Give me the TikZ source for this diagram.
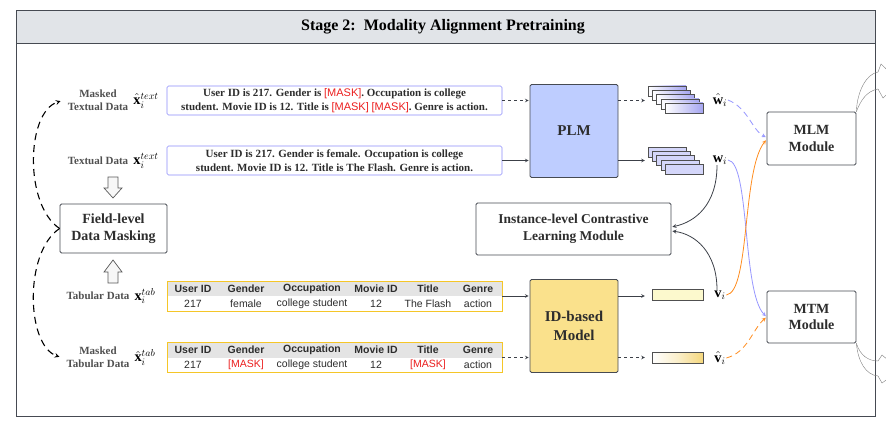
\documentclass[tikz,border=0pt]{standalone}
\usepackage{fontspec}
\setmainfont{Liberation Serif}
\setsansfont{Liberation Sans}
\usepackage{amsmath}
\usetikzlibrary{arrows, positioning}

\definecolor{framegray}{RGB}{70,74,82}
\definecolor{headfill}{RGB}{225,228,232}
\definecolor{textgray}{RGB}{45,45,45}
\definecolor{labelgray}{RGB}{80,80,80}
\definecolor{arrowgray}{RGB}{60,64,72}
\definecolor{plmblue}{RGB}{140,140,250}
\definecolor{plmfill}{RGB}{190,205,255}
\definecolor{stackfill}{RGB}{212,214,250}
\definecolor{stackmask}{RGB}{165,165,240}
\definecolor{idfill}{RGB}{250,225,140}
\definecolor{tabgold}{RGB}{245,198,40}
\definecolor{tabhead}{RGB}{228,228,228}
\definecolor{vfill}{RGB}{252,249,205}
\definecolor{vmask}{RGB}{245,215,125}
\definecolor{maskred}{RGB}{235,30,30}
\definecolor{lineblue}{RGB}{150,150,255}
\definecolor{lineorange}{RGB}{255,140,30}

\newcommand{\maskt}{\textcolor{maskred}{\sffamily\mdseries [MASK]}}

\begin{document}
\begin{tikzpicture}[
            x = 1pt, y = -1pt, % pixel grid, y going down
            > = stealth, % arrow head style
            shorten > = 1pt, % don't touch arrow head to node
            semithick % line style
        ]

        \tikzstyle{module}=[
            draw = framegray,
            thick,
            fill = white,
            rounded corners = 1.5pt,
            align = center,
            text = textgray,
            font = \fontsize{14}{17}\selectfont\bfseries
        ]
        \tikzstyle{model}=[module, minimum width = 88pt, minimum height = 93pt, font = \fontsize{15}{19}\selectfont\bfseries]
        \tikzstyle{textbox}=[
            draw = plmblue,
            rounded corners = 1.5pt,
            minimum width = 335pt,
            minimum height = 29pt,
            inner sep = 0pt,
            align = center,
            text = textgray,
            font = \fontsize{11}{13.5}\selectfont\bfseries
        ]
        \tikzstyle{tabbox}=[
            draw = tabgold,
            thick,
            fill = white,
            minimum width = 335pt,
            minimum height = 30pt,
            path picture = {\fill[tabhead] (path picture bounding box.north west) rectangle (path picture bounding box.east);}
        ]
        \tikzstyle{headcell}=[inner sep = 0pt, text = textgray, font = \fontsize{10.5}{11}\selectfont\sffamily\bfseries]
        \tikzstyle{cell}=[inner sep = 0pt, text = textgray, font = \fontsize{10.5}{11}\selectfont\sffamily]
        \tikzstyle{datalabel}=[align = center, inner sep = 1pt, text = labelgray, font = \fontsize{11}{13}\selectfont\bfseries]
        \tikzstyle{mathlabel}=[inner sep = 0.5pt, text = black, font = \fontsize{14.4}{16}\selectfont]
        \tikzstyle{stackcell}=[draw = labelgray, thin, minimum width = 38pt, minimum height = 10pt, inner sep = 0pt]
        \tikzstyle{bar}=[draw = labelgray, thin, minimum width = 51pt, minimum height = 11pt, inner sep = 0pt]
        \tikzstyle{flow}=[->, draw = arrowgray]
        \tikzstyle{maskflow}=[flow, dashed]
        \tikzstyle{dashcurve}=[->, black, line width = 1.1pt, dash pattern = on 7pt off 5pt, shorten > = 2pt]
        \tikzstyle{blockarrow}=[draw = black!65, fill = black!3, line width = 0.7pt]
        \tikzstyle{outarrow}=[draw = gray, thin]

        \useasboundingbox (0,0) rectangle (886,425);

        % frame and title
        \draw[framegray, thick] (16,10) rectangle (875,416);
        \filldraw[fill = headfill, draw = framegray, thick] (16,10) rectangle (875,43);
        \node[text = black, font = \fontsize{16}{18}\selectfont\bfseries] (title) at (443,26.5) {Stage 2:\ \ Modality Alignment Pretraining};

        % inputs
        \node[textbox] (mtext) at (334.5,100.5) {User ID is 217. Gender is \maskt. Occupation is college\\student. Movie ID is 12. Title is \maskt\ \maskt. Genre is action.};
        \node[textbox] (text) at (334.5,160.5) {User ID is 217. Gender is female. Occupation is college\\student. Movie ID is 12. Title is The Flash. Genre is action.};
        \node[tabbox] (tab) at (334.5,296) {};
        \node[tabbox] (mtab) at (334.5,357.5) {};
        \foreach \cx/\hd/\val/\mval [count=\c] in {193/User ID/217/217, 246/Gender/female/\textcolor{maskred}{[MASK]}, 312/Occupation/college student/college student, 376/Movie ID/12/12, 428/Title/The Flash/\textcolor{maskred}{[MASK]}, 478/Genre/action/action} {
            \node[headcell] (tabh\c) at (\cx,288.5) {\hd};
            \node[cell] (tabv\c) at (\cx,303.5) {\val};
            \node[headcell] (mtabh\c) at (\cx,350) {\hd};
            \node[cell] (mtabv\c) at (\cx,365) {\mval};
        }

        % left labels
        \node[datalabel] (mtlbl) at (98,100.5) {Masked\\Textual Data};
        \node[datalabel] (tlbl) at (98,160.5) {Textual Data};
        \node[datalabel] (tblbl) at (98,296) {Tabular Data};
        \node[datalabel] (mtblbl) at (98,357.5) {Masked\\Tabular Data};
        \node[mathlabel, right = 3pt of mtlbl] (mxt) {$\hat{\mathbf{x}}_i^{text}$};
        \node[mathlabel, right = 3pt of tlbl] (xt) {$\mathbf{x}_i^{text}$};
        \node[mathlabel, right = 3pt of tblbl] (xb) {$\mathbf{x}_i^{tab}$};
        \node[mathlabel, right = 3pt of mtblbl] (mxb) {$\hat{\mathbf{x}}_i^{tab}$};

        \node[module, minimum width = 107pt, minimum height = 49pt] (masking) at (113.5,228.5) {Field-level\\Data Masking};
        \draw[blockarrow] (108,177) -- (118,177) -- (118,188) -- (122,188) -- (113,198) -- (104,188) -- (108,188) -- cycle;
        \draw[blockarrow] (108,283) -- (118,283) -- (118,272) -- (122,272) -- (113,260) -- (104,272) -- (108,272) -- cycle;
        \draw[dashcurve] (masking.west) .. controls (24,205) and (26,112) .. ([xshift = -4pt]mtlbl.west);
        \draw[dashcurve] (masking.west) .. controls (24,252) and (26,345) .. ([xshift = -4pt]mtblbl.west);

        % encoders
        \node[model, fill = plmfill] (plm) at (574,131) {PLM};
        \node[model, fill = idfill] (idm) at (574,326) {ID-based\\Model};
        \draw[maskflow] (mtext.east) -- (plm.west |- mtext.east);
        \draw[flow] (text.east) -- (plm.west |- text.east);
        \draw[flow] (tab.east) -- (idm.west |- tab.east);
        \draw[maskflow] (mtab.east) -- (idm.west |- mtab.east);

        % embeddings
        \foreach \k in {0,...,4} {
            \node[stackcell, left color = white, right color = stackmask] (wms\k) at (667+4.25*\k, 91+4.25*\k) {};
            \node[stackcell, fill = stackfill] (ws\k) at (667+4.25*\k, 152+4.25*\k) {};
        }
        \node[bar, fill = vfill] (vbar) at (677.5,294.5) {};
        \node[bar, left color = white, right color = vmask, middle color = white!60!vmask] (vmbar) at (677.5,357.5) {};
        \draw[maskflow] (plm.east |- mtext.east) -- ([xshift = -2pt]wms0.west |- mtext.east);
        \draw[flow] (plm.east |- text.east) -- ([xshift = -2pt]ws0.west |- text.east);
        \draw[flow] (idm.east |- tab.east) -- ([xshift = -6pt]vbar.west |- tab.east);
        \draw[maskflow] (idm.east |- mtab.east) -- ([xshift = -6pt]vmbar.west |- mtab.east);

        \node[mathlabel] (wm) at (720,100) {$\hat{\mathbf{w}}_i$};
        \node[mathlabel] (w) at (720,160) {$\mathbf{w}_i$};
        \node[mathlabel] (v) at (720,295) {$\mathbf{v}_i$};
        \node[mathlabel] (vm) at (720,358) {$\hat{\mathbf{v}}_i$};

        % objectives
        \node[module, minimum width = 195pt, minimum height = 52pt, font = \fontsize{13.5}{17}\selectfont\bfseries] (icl) at (573.5,229) {Instance-level Contrastive\\Learning Module};
        \node[module, minimum width = 89pt, minimum height = 53pt] (mlm) at (811.5,138.5) {MLM\\Module};
        \node[module, minimum width = 89pt, minimum height = 52pt] (mtm) at (811.5,317) {MTM\\Module};

        \draw[->, arrowgray, thick] ([xshift = -3pt]w.south) .. controls (717,205) and (695,222) .. ([yshift = 2pt]icl.east);
        \draw[->, arrowgray, thick] ([xshift = -3pt]v.north) .. controls (717,252) and (695,234) .. ([yshift = -2pt]icl.east);
        \draw[->, lineblue, thick, dash pattern = on 6pt off 4pt] (wm.east) .. controls (748,108) and (752,130) .. ([yshift = 1pt]mlm.west);
        \draw[->, lineblue, thick] (w.east) .. controls (750,162) and (742,292) .. (mtm.west);
        \draw[->, lineorange, thick] (v.east) .. controls (750,292) and (742,170) .. ([yshift = -1pt]mlm.west);
        \draw[->, lineorange, thick, dash pattern = on 6pt off 4pt] (vm.east) .. controls (748,352) and (752,330) .. (mtm.west);

        % outputs leaving the stage
        \draw[outarrow] (mlm.north east) .. controls (857,92) and (866,74) .. (878,72) -- (881,64) -- (900,82);
        \draw[outarrow] (mlm.north east) .. controls (860,102) and (866,91) .. (878,89) -- (883,98) -- (900,82);
        \draw[outarrow] (mtm.south east) .. controls (860,355) and (868,361) .. (878,361) -- (882,355) -- (900,370);
        \draw[outarrow] (mtm.south east) .. controls (858,362) and (866,375) .. (878,376) -- (882,383) -- (900,370);

    \end{tikzpicture}
\end{document}
